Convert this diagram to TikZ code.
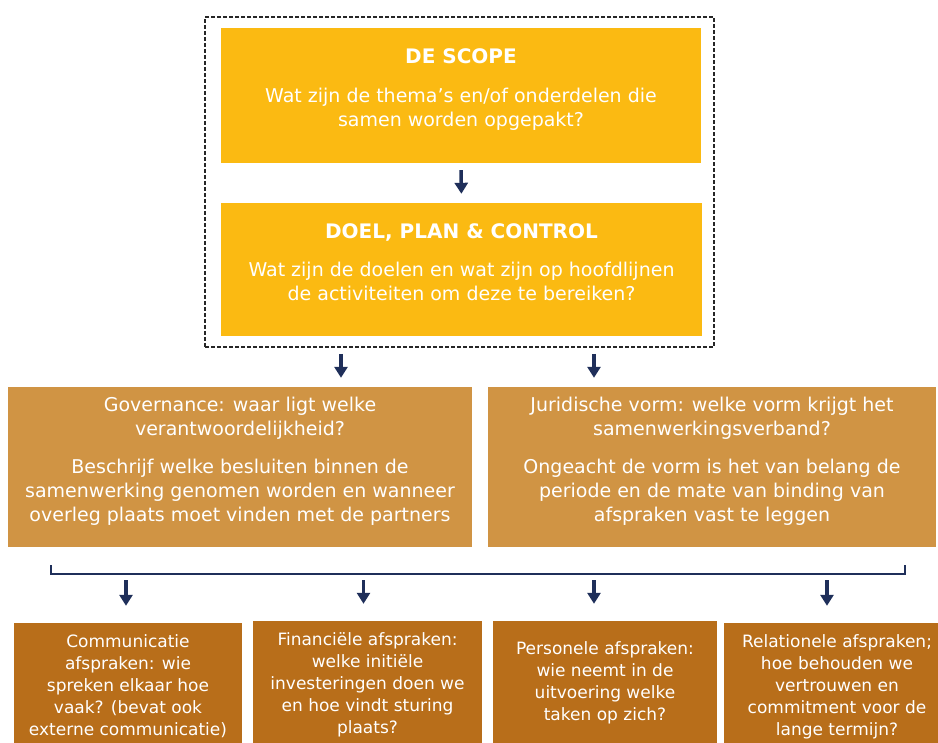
\documentclass[tikz,border=0pt]{standalone}
\usepackage{fontspec}
\setmainfont{DejaVu Sans}
\usetikzlibrary{arrows.meta}

\definecolor{geel}{RGB}{251,186,18}
\definecolor{oker}{RGB}{208,148,68}
\definecolor{bruin}{RGB}{184,110,26}
\definecolor{navy}{RGB}{31,47,90}

\begin{document}
\begin{tikzpicture}[x=1pt,y=-1pt,
    vlak/.style={fill=#1,text=white,align=center,inner sep=0pt,text depth=15pt,
        font=\fontsize{19}{24}\selectfont},
    klein/.style={fill=bruin,text=white,align=center,inner sep=0pt,
        font=\fontsize{17}{22}\selectfont},
    pijl/.style={-{Triangle[width=13pt,length=11pt]},line width=3.5pt,draw=navy,
        shorten <=6pt,shorten >=9pt},
    haak/.style={draw=navy,line width=2pt}]
    \useasboundingbox (0,0) rectangle (938,743);
    \clip (0,0) rectangle (938,743);

    % dashed frame round scope and doel
    \node[draw=black!85,line width=1.6pt,dash pattern=on 4pt off 2pt,
        minimum width=509pt,minimum height=330pt] (frame) at (459.5,182) {};

    \node[vlak=geel,minimum width=480pt,minimum height=135pt] (scope) at (461,95.5)
        {{\bfseries\fontsize{20}{24}\selectfont DE SCOPE}\\[15pt]
         Wat zijn de thema’s en/of onderdelen die\\samen worden opgepakt?};
    \node[vlak=geel,minimum width=481pt,minimum height=133pt] (doel) at (461.5,269.5)
        {{\bfseries\fontsize{20}{24}\selectfont DOEL, PLAN \& CONTROL}\\[14pt]
         Wat zijn de doelen en wat zijn op hoofdlijnen\\de activiteiten om deze te bereiken?};
    \draw[pijl,shorten <=7pt] (scope.south) -- (doel.north);

    \node[vlak=oker,minimum width=464pt,minimum height=160pt] (gov) at (240,467)
        {Governance: waar ligt welke\\verantwoordelijkheid?\\[14pt]
         Beschrijf welke besluiten binnen de\\samenwerking genomen worden en wanneer\\
         overleg plaats moet vinden met de partners};
    \node[vlak=oker,minimum width=448pt,minimum height=160pt] (jur) at (712,467)
        {Juridische vorm: welke vorm krijgt het\\samenwerkingsverband?\\[14pt]
         Ongeacht de vorm is het van belang de\\periode en de mate van binding van\\
         afspraken vast te leggen};
    \path ([xshift=101pt]gov.north) coordinate (gov-in);
    \path ([xshift=-118pt]jur.north) coordinate (jur-in);
    \draw[pijl] (gov-in |- frame.south) -- (gov-in);
    \draw[pijl] (jur-in |- frame.south) -- (jur-in);

    % bracket over the four agreements
    \coordinate (haakL) at (51,565);
    \coordinate (haakR) at (905,565);
    \draw[haak] (haakL) -- ++(0,9) coordinate (haakM) -| (haakR);

    \node[klein,minimum width=228pt,minimum height=127pt] (comm) at (128,686.5)
        {Communicatie\\afspraken: wie\\spreken elkaar hoe\\vaak? (bevat ook\\externe communicatie)};
    \node[klein,minimum width=229pt,minimum height=127pt] (fin) at (367.5,684.5)
        {Financiële afspraken:\\welke initiële\\investeringen doen we\\en hoe vindt sturing\\plaats?};
    \node[klein,minimum width=224pt,minimum height=132pt,text depth=12pt] (pers) at (605,687)
        {Personele afspraken:\\wie neemt in de\\uitvoering welke\\taken op zich?};
    \node[klein,minimum width=226pt,minimum height=127pt] (rel) at (837,686.5)
        {Relationele afspraken;\\hoe behouden we\\vertrouwen en\\commitment voor de\\lange termijn?};
    \foreach \b/\dx in {comm/-2,fin/-4,pers/-11,rel/-10}{
        \path ([xshift=\dx pt]\b.north) coordinate (\b-in);
        \draw[pijl,shorten >=17pt] (\b-in |- haakM) -- (\b-in);
    }
\end{tikzpicture}
\end{document}
